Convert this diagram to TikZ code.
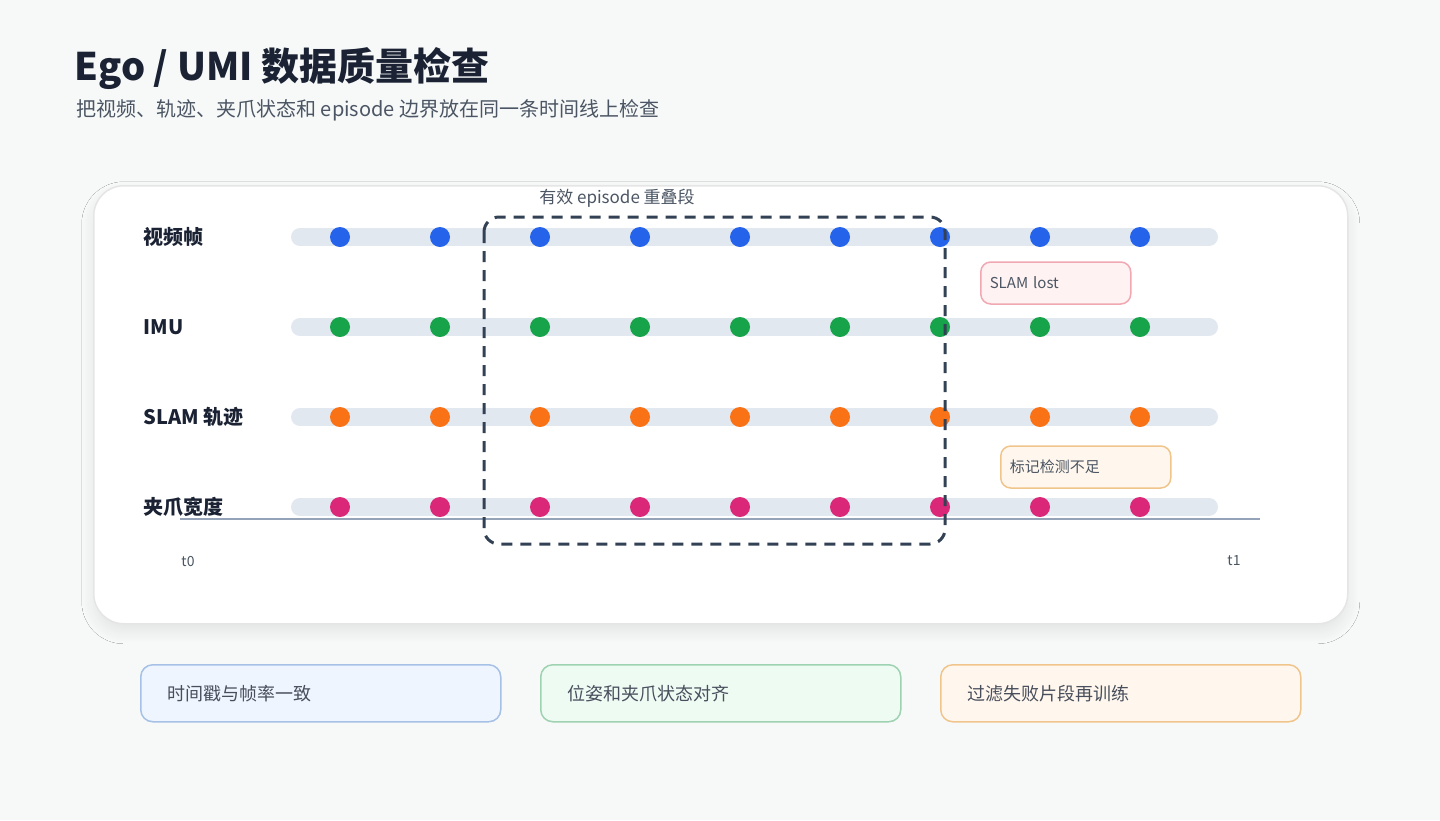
\documentclass[tikz,border=0pt]{standalone}
\usepackage{fontspec}
\setmainfont{Noto Sans CJK SC}
\usetikzlibrary{shadows.blur}
\definecolor{bg}{HTML}{F7F9F9}
\definecolor{ink}{HTML}{1A2233}
\definecolor{sub}{HTML}{4B5563}
\definecolor{trk}{HTML}{E2E8F0}
\definecolor{cb}{HTML}{2563EB}
\definecolor{cg}{HTML}{16A34A}
\definecolor{co}{HTML}{F97316}
\definecolor{cp}{HTML}{DB2777}
\definecolor{axis}{HTML}{94A3B8}
\definecolor{dk}{HTML}{334155}
\definecolor{bfill}{HTML}{EEF5FE}
\definecolor{bdraw}{HTML}{A6C0E6}
\definecolor{gfill}{HTML}{EEFBF3}
\definecolor{gdraw}{HTML}{9ED2B1}
\definecolor{ofill}{HTML}{FFF7ED}
\definecolor{odraw}{HTML}{F0C58C}
\definecolor{rfill}{HTML}{FEF2F2}
\definecolor{rdraw}{HTML}{F0A8B3}
\begin{document}
\begin{tikzpicture}[x=1pt,y=-1pt,
  lab/.style={anchor=west,font=\fontsize{20}{24}\selectfont\bfseries,text=ink},
  dot/.style={circle,inner sep=0,minimum size=20pt},
  tag/.style={draw,rounded corners=10pt,line width=1.5pt,anchor=west,minimum height=42pt,inner sep=0,align=left,font=\fontsize{15}{18}\selectfont,text=sub},
  card/.style={draw,rounded corners=12pt,line width=1.5pt,minimum width=360pt,minimum height=57pt,anchor=north west,text width=306pt,align=left,font=\fontsize{18}{22}\selectfont,text=ink!80}]
\fill[bg] (0,0) rectangle (1440,820);
\useasboundingbox (0,0) rectangle (1440,820);
\node[anchor=base west,font=\fontsize{38}{44}\selectfont\bfseries,text=ink] (title) at (71,80) {Ego / UMI 数据质量检查};
\node[anchor=base west,font=\fontsize{20}{24}\selectfont,text=sub] (subt) at (73,116) {把视频、轨迹、夹爪状态和 episode 边界放在同一条时间线上检查};
\node[draw=black!10,fill=white,rounded corners=30pt,line width=1.5pt,minimum width=1254pt,minimum height=438pt,anchor=north west,blur shadow={shadow blur steps=12,shadow blur radius=12pt,shadow xshift=0pt,shadow yshift=-8pt,shadow opacity=8}] (panel) at (93,185) {};
\foreach \y/\c/\t [count=\i] in {237/cb/视频帧,327/cg/IMU,417/co/SLAM 轨迹,507/cp/夹爪宽度}{
  \node[lab] (l\i) at (140,\y) {\t};
  \draw[trk,line width=18pt,line cap=round] (300,\y) -- (1209,\y);
  \foreach \k in {0,...,8}{\node[dot,fill=\c] (d\i\k) at (340+100*\k,\y) {};}
}
\draw[axis,line width=2.5pt] (180,519) -- (1260,519);
\node[font=\fontsize{14}{16}\selectfont,text=sub] (t0) at (188,561) {t0};
\node[font=\fontsize{14}{16}\selectfont,text=sub] (t1) at (1234,561) {t1};
\draw[dk,line width=3pt,dash pattern=on 11pt off 8pt,rounded corners=15pt] (484,217) rectangle (945,544);
\node[font=\fontsize{17}{20}\selectfont,text=sub] (ep) at (617,198) {有效 episode 重叠段};
\node[tag,fill=rfill,draw=rdraw,minimum width=150pt,text width=132pt] (lost) at (980,283) {SLAM lost};
\node[tag,fill=ofill,draw=odraw,minimum width=170pt,text width=152pt] (mark) at (1000,467) {标记检测不足};
\node[card,fill=bfill,draw=bdraw] (b1) at (140,664) {时间戳与帧率一致};
\node[card,fill=gfill,draw=gdraw] (b2) at (540,664) {位姿和夹爪状态对齐};
\node[card,fill=ofill,draw=odraw] (b3) at (940,664) {过滤失败片段再训练};
\end{tikzpicture}
\end{document}
